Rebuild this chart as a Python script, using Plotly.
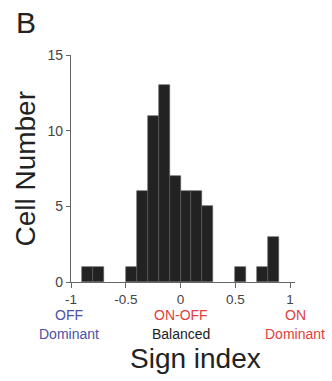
import plotly.graph_objects as go

bin_centers = [-0.85, -0.75, -0.45, -0.35, -0.25, -0.15, -0.05, 0.05, 0.15, 0.25, 0.55, 0.75, 0.85]
counts = [1, 1, 1, 6, 11, 13, 7, 6, 6, 5, 1, 1, 3]
bin_width = 0.1
x_ticks = [-1, -0.5, 0, 0.5, 1]
x_tick_labels = ["-1", "-0.5", "0", "0.5", "1"]
y_ticks = [0, 5, 10, 15]

FONT = "Liberation Sans, Arial, sans-serif"
BLUE = "#4b4fa8"
RED = "#e2403c"

fig = go.Figure()
fig.add_trace(go.Bar(
    x=bin_centers, y=counts, width=[bin_width] * len(counts),
    marker=dict(color="#222222", line=dict(color="#5a5a5a", width=0.6)),
    showlegend=False,
))

fig.update_layout(
    width=332, height=381,
    margin=dict(l=71, r=37, t=55, b=99),
    plot_bgcolor="white", paper_bgcolor="white",
    font=dict(family=FONT, color="#333333"),
    bargap=0,
    xaxis=dict(range=[-1, 1.045], tickvals=x_ticks, ticktext=x_tick_labels,
               showgrid=False, zeroline=False, showline=True, linecolor="#666666",
               linewidth=1.2, ticks="outside", ticklen=5, tickcolor="#666666",
               tickfont=dict(size=13.5, color="#444444", family=FONT)),
    yaxis=dict(range=[0, 15], tickvals=y_ticks, showgrid=False, zeroline=False,
               showline=True, linecolor="#666666", linewidth=1.2,
               ticks="outside", ticklen=4, tickcolor="#666666",
               tickfont=dict(size=14, color="#444444", family=FONT)),
)

def ann(text, x, y, size, color, angle=0):
    fig.add_annotation(text=text, x=x, y=y, xref="paper", yref="paper",
                       showarrow=False, xanchor="center", yanchor="middle",
                       textangle=angle,
                       font=dict(size=size, color=color, family=FONT))

ann("OFF", -0.009, -0.147, 14, BLUE)
ann("Dominant", -0.009, -0.227, 14, BLUE)
ann("ON-OFF", 0.491, -0.147, 14, RED)
ann("Balanced", 0.491, -0.227, 14, "#222222")
ann("ON", 1.0, -0.147, 14, RED)
ann("Dominant", 1.0, -0.227, 14, RED)
ann("Sign index", 0.554, -0.335, 28, "#222222")
ann("Cell Number", -0.205, 0.5, 28, "#222222", angle=-90)
ann("B", -0.203, 1.145, 30, "#222222")

fig.write_html("out.html", config={"displayModeBar": False},
               post_script="document.body.style.margin='0';")
